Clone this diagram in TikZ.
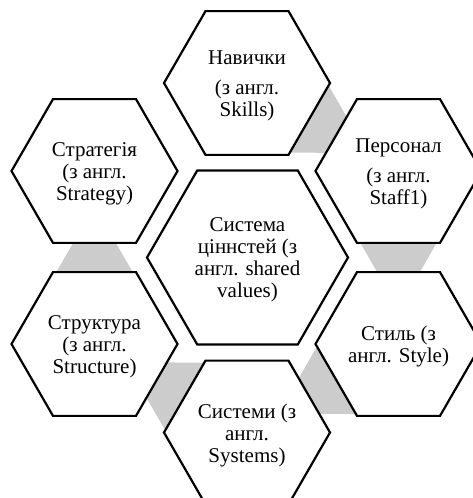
\documentclass[tikz,border=0pt]{standalone}
\usepackage{fontspec}
\setmainfont{Liberation Serif}
\usetikzlibrary{shapes.geometric,calc,backgrounds}
\definecolor{conngray}{RGB}{204,204,204}
\tikzset{
  hexo/.style={regular polygon, regular polygon sides=6, minimum size=166pt,
    draw=black, line width=2.2pt, fill=white, inner sep=0pt},
  hexc/.style={hexo, minimum size=201pt},
  lbl/.style={align=center, inner sep=0pt, yshift=-2.5pt,
    font=\fontsize{21pt}{22pt}\selectfont},
  connfill/.style={fill=conngray, draw=none},
}
\newcommand\grayconn[2]{%
  \coordinate (cM) at ($(#1)!0.5!(#2)$);
  \coordinate (cA) at ($(cM)!51.5pt!(#2)$);
  \coordinate (cB) at ($(cM)!-25pt!(#2)$);
  \fill[connfill] (cA) -- ($(cB)!44.2pt!90:(#2)$) -- ($(cB)!44.2pt!-90:(#2)$) -- cycle;
}
\begin{document}
\begin{tikzpicture}[x=1pt,y=-1pt]
\useasboundingbox (0,0) rectangle (472,498);
\node[hexc] (sv) at (247.5,257.5) {};
\node[hexo] (skills) at (247,83) {};
\node[hexo] (staff) at (398.5,171) {};
\node[hexo] (style) at (398.5,344) {};
\node[hexo] (systems) at (247,432.5) {};
\node[hexo] (structure) at (94.5,344) {};
\node[hexo] (strategy) at (94.5,171) {};
\node[lbl] (tsv) at (sv) {Система\\ціннстей (з\\англ. shared\\values)};
\node[lbl] (tskills) at (skills) {Навички\\[8pt](з англ.\\Skills)};
\node[lbl] (tstaff) at (staff) {Персонал\\[8pt](з англ.\\Staff1)};
\node[lbl] (tstyle) at (style) {Стиль (з\\англ. Style)};
\node[lbl] (tsystems) at (systems) {Системи (з\\англ.\\Systems)};
\node[lbl] (tstructure) at (structure) {Структура\\(з англ.\\Structure)};
\node[lbl] (tstrategy) at (strategy) {Стратегія\\(з англ.\\Strategy)};
\begin{scope}[on background layer]
  \grayconn{skills}{staff}
  \grayconn{staff}{style}
  \grayconn{style}{systems}
  \grayconn{systems}{structure}
  \grayconn{structure}{strategy}
\end{scope}
\end{tikzpicture}
\end{document}
